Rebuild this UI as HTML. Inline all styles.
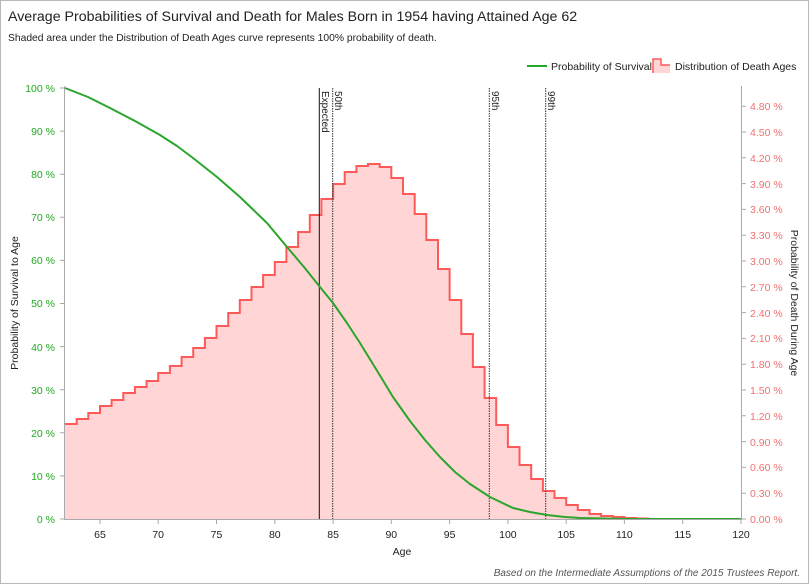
<!DOCTYPE html>
<html><head><style>
body{margin:0;background:#fff;}
svg{display:block;font-family:"Liberation Sans",sans-serif;}
</style></head><body>
<svg width="809" height="584" viewBox="0 0 809 584" xmlns="http://www.w3.org/2000/svg">
<rect x="0.5" y="0.5" width="808" height="583" fill="#fff" stroke="#b8b8b8"/>
<text x="8" y="21" font-size="14.2" fill="#222">Average Probabilities of Survival and Death for Males Born in 1954 having Attained Age 62</text>
<text x="8" y="41" font-size="10.3" fill="#222">Shaded area under the Distribution of Death Ages curve represents 100% probability of death.</text>
<line x1="527" y1="66" x2="547" y2="66" stroke="#22aa22" stroke-width="2"/>
<text x="551" y="70" font-size="10.5" fill="#222">Probability of Survival</text>
<path d="M653,73 V59 H661 V65 H670 V73 Z" fill="#ffd5d5"/>
<path d="M653,73 V59 H661 V65 H670" fill="none" stroke="#ff5a5a" stroke-width="1.5"/>
<text x="675" y="70" font-size="10.5" fill="#222">Distribution of Death Ages</text>
<path d="M65,519 V424 H76.7 V419 H88.3 V413 H100 V406 H111.6 V400 H123.3 V393 H134.9 V387 H146.6 V381 H158.2 V373 H169.9 V366 H181.6 V357 H193.2 V348 H204.9 V338 H216.5 V326 H228.2 V313 H239.8 V300 H251.5 V287 H263.1 V275 H274.8 V262 H286.4 V247 H298.1 V232 H309.8 V215 H321.4 V199 H333.1 V184 H344.7 V172 H356.4 V166 H368 V164 H379.7 V167 H391.3 V178 H403 V194 H414.7 V214 H426.3 V240 H438 V269 H449.6 V300 H461.3 V334 H472.9 V367 H484.6 V398 H496.2 V425 H507.9 V447 H519.5 V465 H531.2 V479 H542.9 V491 H554.5 V498 H566.2 V505 H577.8 V510 H589.5 V514 H601.1 V516 H612.8 V517 H624.4 V518 H636.1 V518.5 H647.8 V519 H741 Z" fill="#ffd5d5"/>
<path d="M65,424 H76.7 V419 H88.3 V413 H100 V406 H111.6 V400 H123.3 V393 H134.9 V387 H146.6 V381 H158.2 V373 H169.9 V366 H181.6 V357 H193.2 V348 H204.9 V338 H216.5 V326 H228.2 V313 H239.8 V300 H251.5 V287 H263.1 V275 H274.8 V262 H286.4 V247 H298.1 V232 H309.8 V215 H321.4 V199 H333.1 V184 H344.7 V172 H356.4 V166 H368 V164 H379.7 V167 H391.3 V178 H403 V194 H414.7 V214 H426.3 V240 H438 V269 H449.6 V300 H461.3 V334 H472.9 V367 H484.6 V398 H496.2 V425 H507.9 V447 H519.5 V465 H531.2 V479 H542.9 V491 H554.5 V498 H566.2 V505 H577.8 V510 H589.5 V514 H601.1 V516 H612.8 V517 H624.4 V518 H636.1 V518.5 H647.8 V519 H741" fill="none" stroke="#ff5a5a" stroke-width="2"/>
<line x1="319.3" y1="88" x2="319.3" y2="519" stroke="#111" stroke-width="1"/>
<line x1="332.7" y1="88" x2="332.7" y2="519" stroke="#333" stroke-width="1" stroke-dasharray="1.5,1"/>
<line x1="489.3" y1="88" x2="489.3" y2="519" stroke="#333" stroke-width="1" stroke-dasharray="1.5,1"/>
<line x1="545.7" y1="88" x2="545.7" y2="519" stroke="#333" stroke-width="1" stroke-dasharray="1.5,1"/>
<g font-size="10" fill="#222">
<text transform="translate(322,91) rotate(90)">Expected</text>
<text transform="translate(335,91) rotate(90)">50th</text>
<text transform="translate(492,91) rotate(90)">95th</text>
<text transform="translate(548,91) rotate(90)">99th</text>
</g>
<polyline points="65,88 88,97 110,108 135,121 160,135 177,146 193,158 217,177 240,197 267,223 287,247 304,267 320,287 333,303 347,323 360,343 376,369 393,397 410,421 425,440 440,457 455,472 470,484 490,497 513,508 530,512 547,515 565,517 580,518 630,519 741,519" fill="none" stroke="#2ca52c" stroke-width="2" stroke-linejoin="round"/>
<g stroke="#aaa" stroke-width="1" fill="none">
<line x1="64.5" y1="86" x2="64.5" y2="520"/>
<line x1="741.5" y1="86" x2="741.5" y2="520"/>
<line x1="64" y1="519.5" x2="742" y2="519.5"/>
<path d="M60,519H65M60,475.9H65M60,432.8H65M60,389.7H65M60,346.6H65M60,303.5H65M60,260.4H65M60,217.3H65M60,174.2H65M60,131.1H65M60,88H65"/>
<path d="M741,519H746M741,493.2H746M741,467.4H746M741,441.6H746M741,415.8H746M741,390H746M741,364.2H746M741,338.4H746M741,312.6H746M741,286.8H746M741,261H746M741,235.2H746M741,209.4H746M741,183.6H746M741,157.8H746M741,132H746M741,106.2H746"/>
<path d="M100,519V524M158.2,519V524M216.5,519V524M274.8,519V524M333.1,519V524M391.3,519V524M449.6,519V524M507.9,519V524M566.2,519V524M624.4,519V524M682.7,519V524M741,519V524"/>
</g>
<g font-size="10.5" fill="#22aa22" text-anchor="end">
<text x="55" y="523">0 %</text><text x="55" y="480">10 %</text><text x="55" y="437">20 %</text><text x="55" y="394">30 %</text><text x="55" y="351">40 %</text><text x="55" y="307">50 %</text><text x="55" y="264">60 %</text><text x="55" y="221">70 %</text><text x="55" y="178">80 %</text><text x="55" y="135">90 %</text><text x="55" y="92">100 %</text>
</g>
<g font-size="10.5" fill="#f07070">
<text x="750" y="523">0.00 %</text><text x="750" y="497">0.30 %</text><text x="750" y="471">0.60 %</text><text x="750" y="446">0.90 %</text><text x="750" y="420">1.20 %</text><text x="750" y="394">1.50 %</text><text x="750" y="368">1.80 %</text><text x="750" y="342">2.10 %</text><text x="750" y="317">2.40 %</text><text x="750" y="291">2.70 %</text><text x="750" y="265">3.00 %</text><text x="750" y="239">3.30 %</text><text x="750" y="213">3.60 %</text><text x="750" y="188">3.90 %</text><text x="750" y="162">4.20 %</text><text x="750" y="136">4.50 %</text><text x="750" y="110">4.80 %</text>
</g>
<g font-size="10.5" fill="#222" text-anchor="middle">
<text x="100" y="538">65</text><text x="158.2" y="538">70</text><text x="216.5" y="538">75</text><text x="274.8" y="538">80</text><text x="333.1" y="538">85</text><text x="391.3" y="538">90</text><text x="449.6" y="538">95</text><text x="507.9" y="538">100</text><text x="566.2" y="538">105</text><text x="624.4" y="538">110</text><text x="682.7" y="538">115</text><text x="741" y="538">120</text>
</g>
<text x="402" y="555" font-size="10.5" fill="#222" text-anchor="middle">Age</text>
<text transform="translate(18,303) rotate(-90)" font-size="10.5" fill="#222" text-anchor="middle">Probability of Survival to Age</text>
<text transform="translate(791,303) rotate(90)" font-size="10.5" fill="#222" text-anchor="middle">Probability of Death During Age</text>
<text x="800" y="576" font-size="10" font-style="italic" fill="#555" text-anchor="end">Based on the Intermediate Assumptions of the 2015 Trustees Report.</text>
</svg>
</body></html>
